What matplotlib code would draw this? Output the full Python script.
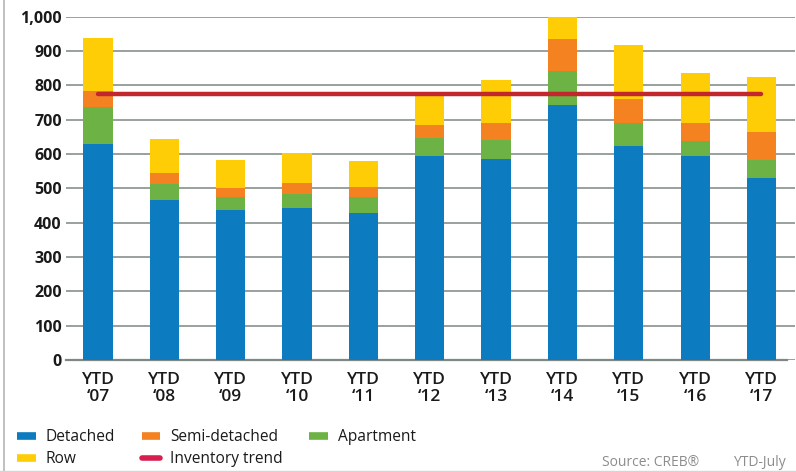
import matplotlib
matplotlib.use("Agg")
import matplotlib.pyplot as plt
from matplotlib.lines import Line2D

plt.rcParams['font.family'] = ['Open Sans', 'DejaVu Sans']

# YTD inventory by property type (units)
years = ["07", "08", "09", "10", "11", "12", "13", "14", "15", "16", "17"]
detached = [628, 467, 436, 443, 429, 593, 586, 744, 624, 593, 531]
apartment = [110, 45, 38, 41, 45, 55, 56, 99, 65, 44, 52]
semi_detached = [46, 34, 27, 33, 30, 37, 47, 93, 72, 52, 82]
row = [155, 99, 82, 86, 76, 88, 126, 64, 158, 148, 158]
inventory_trend = [775, 775, 775, 775, 775, 775, 775, 775, 775, 775, 775]

c_det = '#0d7bbf'
c_apt = '#6cb244'
c_semi = '#f58220'
c_row = '#ffcd05'
c_trend = '#c1272d'

fig = plt.figure(figsize=(7.96, 4.72), dpi=100)
ax = fig.add_axes([66 / 796, 1 - 360 / 472, 729 / 796, 343.3 / 472])

x = list(range(len(years)))
w = 0.44
b1 = detached
b2 = [a + b for a, b in zip(b1, apartment)]
b3 = [a + b for a, b in zip(b2, semi_detached)]

ax.bar(x, detached, w, color=c_det, zorder=3, clip_on=False)
ax.bar(x, apartment, w, bottom=b1, color=c_apt, zorder=3, clip_on=False)
ax.bar(x, semi_detached, w, bottom=b2, color=c_semi, zorder=3, clip_on=False)
ax.bar(x, row, w, bottom=b3, color=c_row, zorder=3, clip_on=False)
ax.plot(x, inventory_trend, color=c_trend, lw=3.2, solid_capstyle='round', zorder=4)

ax.set_xlim(-0.482, 10.505)
ax.set_ylim(0, 1000)
ax.set_yticks(range(0, 1001, 100))
ax.set_yticklabels([f"{v:,}" for v in range(0, 1001, 100)],
                   fontsize=11.5, fontweight='bold', color='#1a1a1a')
ax.set_xticks(x)
ax.set_xticklabels(["YTD\n\u2018" + y for y in years], fontsize=12.5,
                   fontweight='semibold', color='#1a1a1a', linespacing=1.05)
ax.tick_params(axis='y', length=0, pad=3)
ax.tick_params(axis='x', length=0, pad=9)
ax.grid(axis='y', color='#7d8783', lw=1.1, zorder=0)
ax.set_axisbelow(True)
for s in ['top', 'right', 'left']:
    ax.spines[s].set_visible(False)
ax.spines['bottom'].set_color('#7d8783')
ax.spines['bottom'].set_linewidth(1.6)
ax.spines['bottom'].set_bounds(-0.482, 10.38)
ax.spines['bottom'].set_zorder(2)

handles = [
    Line2D([], [], color=c_det, lw=5.5, solid_capstyle='butt'),
    Line2D([], [], color=c_row, lw=5.5, solid_capstyle='butt'),
    Line2D([], [], color=c_semi, lw=5.5, solid_capstyle='butt'),
    Line2D([], [], color='#d81e4f', lw=4, solid_capstyle='round'),
    Line2D([], [], color=c_apt, lw=5.5, solid_capstyle='butt'),
]
labels = ["Detached", "Row", "Semi-detached", "Inventory trend", "Apartment"]
fig.legend(handles, labels, ncol=3, loc='upper left',
           bbox_to_anchor=(17 / 796, 1 - 429 / 472), frameon=False,
           fontsize=11.2, handlelength=1.2, handletextpad=0.65,
           columnspacing=1.7, labelspacing=0.4, labelcolor='#1a1a1a',
           borderaxespad=0, borderpad=0)

fig.text(699 / 796, 1 - 463 / 472, "Source: CREB\u00ae", ha='right', va='center',
         fontsize=10, color='#8c8c8c')
fig.text(786 / 796, 1 - 463 / 472, "YTD-July", ha='right', va='center',
         fontsize=10, color='#8c8c8c')

# thin frame on left and bottom
fig.add_artist(Line2D([3.5 / 796, 3.5 / 796], [0, 1], color='#b5b5b5', lw=1.2))
fig.add_artist(Line2D([0, 1], [1.5 / 472, 1.5 / 472], color='#d5d5d5', lw=1.0))

fig.savefig("out.png", dpi=100)
